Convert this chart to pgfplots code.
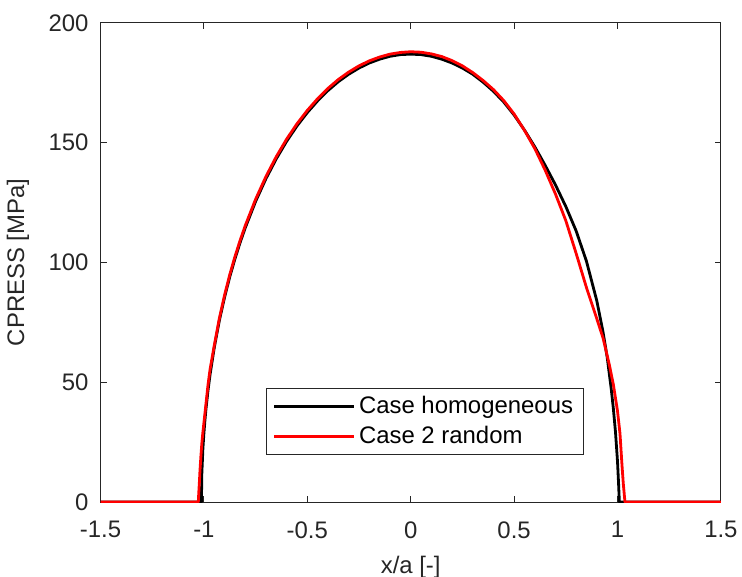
\documentclass[border=0pt]{standalone}
\usepackage{pgfplots}
\pgfplotsset{compat=1.18}
\usepackage{fontspec}
\setmainfont{Liberation Sans}
\usetikzlibrary{calc}
\definecolor{axgray}{RGB}{38,38,38}
\begin{document}
\fontsize{12}{14}\selectfont
\begin{tikzpicture}
\begin{axis}[
  name=ax,
  scale only axis,
  width=310.2bp, height=239.5bp,
  xmin=-1.5, xmax=1.5, ymin=0, ymax=200,
  xtick={-1.5,-1,-0.5,0,0.5,1,1.5},
  ytick={0,50,100,150,200},
  /pgf/number format/assume math mode=true,
  tick align=inside,
  major tick length=3bp,
  axis line style={axgray, line width=0.5bp},
  every tick/.style={axgray, line width=0.5bp},
  tick label style={font=\fontsize{12}{14}\selectfont, text=axgray},
  xticklabel style={yshift=-5.5bp},
  yticklabel style={xshift=-1.8bp},
  xlabel={x/a [-]},
  ylabel={CPRESS [MPa]},
  label style={font=\fontsize{12}{14}\selectfont, text=axgray},
  xlabel style={at={(axis description cs:0.5,-0.136)}, anchor=center},
  ylabel style={at={(axis description cs:-0.133,0.5)}, anchor=center},
  legend style={at={(axis description cs:0.523,0.168)}, anchor=center,
    draw=axgray, line width=0.5bp, font=\fontsize{12}{14}\selectfont,
    row sep=0.5bp, inner xsep=3bp, inner ysep=2bp, fill=white},
  legend cell align=left,
  legend image code/.code={\draw[#1] (0bp,0bp) -- (39.7bp,0bp);},
]
\coordinate (bl) at (rel axis cs:0,0);
\coordinate (tr) at (rel axis cs:1,1);
\addplot[black, line width=1.4bp, line join=round] coordinates {
(-1.5,0) (-1.012,0) (-1.01,11.8) (-1.005,22.0) (-1.0,28.7) (-0.995,34.1) (-0.99,38.8)
(-0.98,46.7) (-0.97,53.3) (-0.95,64.4) (-0.925,75.9) (-0.9,85.5) (-0.875,94.0)
(-0.85,101.5) (-0.825,108.3) (-0.8,114.5) (-0.75,125.5) (-0.7,135.0) (-0.65,143.3)
(-0.6,150.6) (-0.55,157.0) (-0.5,162.6) (-0.45,167.5) (-0.4,171.8) (-0.35,175.5)
(-0.3,178.6) (-0.25,181.2) (-0.2,183.3) (-0.15,184.9) (-0.1,186.1) (-0.05,186.8)
(0,187) (0.05,186.8) (0.1,186.1) (0.15,184.9) (0.2,183.3) (0.25,181.2) (0.3,178.6)
(0.35,175.3) (0.4,171.5) (0.45,167.0) (0.5,161.6) (0.55,155.3) (0.6,148.3)
(0.65,140.6) (0.7,132.4) (0.75,123.4) (0.8,113.2) (0.85,100.5) (0.9,84) (0.93,71)
(0.95,60.5) (0.97,47) (0.98,39) (0.99,29.5) (1.0,17) (1.005,8) (1.009,0) (1.5,0)
};
\addlegendentry{Case homogeneous}
\addplot[red, line width=1.4bp, line join=round] coordinates {
(-1.5,0) (-1.027,0) (-1.025,3.5) (-1.022,8) (-1.019,13) (-1.015,18.5) (-1.01,24.5)
(-1.005,29) (-1.0,33) (-0.995,37) (-0.99,41) (-0.98,49) (-0.97,55.5) (-0.95,65.3)
(-0.925,76.8) (-0.9,86.4) (-0.875,94.9) (-0.85,102.4) (-0.825,109.2) (-0.8,115.4)
(-0.75,126.4) (-0.7,135.9) (-0.65,144.2) (-0.6,151.5) (-0.55,157.9) (-0.5,163.5)
(-0.45,168.4) (-0.4,172.7) (-0.35,176.4) (-0.3,179.5) (-0.25,182.1) (-0.2,184.2)
(-0.15,185.8) (-0.1,187.0) (-0.05,187.7) (0,188) (0.05,187.8) (0.1,187.1)
(0.15,186.0) (0.2,184.3) (0.25,182.1) (0.3,179.3) (0.35,176.0) (0.4,172.2)
(0.45,167.6) (0.5,162.0) (0.55,155.2) (0.6,147.6) (0.65,138.6) (0.7,128.6) (0.75,117.5)
(0.8,103.8) (0.85,89.5) (0.9,76.5) (0.93,68.5) (0.96,57.5) (0.98,49) (1.0,38)
(1.012,28.6) (1.022,15) (1.028,7.7) (1.036,0) (1.5,0)
};
\addlegendentry{Case 2 random}
\end{axis}
\pgfresetboundingbox
\path ($(bl)+(-50.25bp,-37.15bp)$) rectangle ($(tr)+(10.55bp,11.5bp)$);
\end{tikzpicture}
\end{document}
